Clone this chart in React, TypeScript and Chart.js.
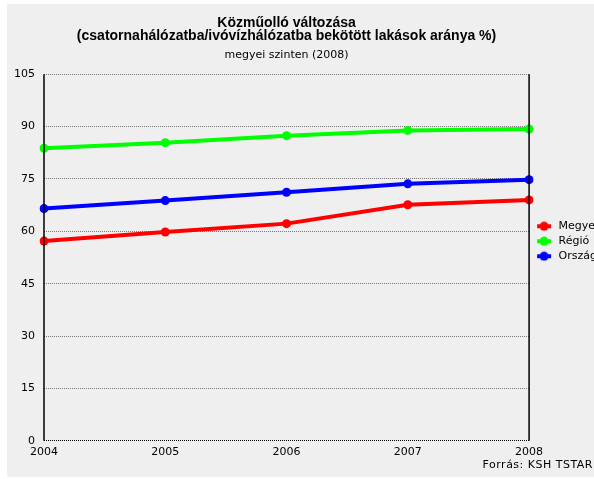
import React, { useEffect, useRef } from "react";
import { Chart, registerables } from "chart.js";

Chart.register(...registerables);

const years = ["2004", "2005", "2006", "2007", "2008"];
const megye = [57.2, 59.8, 62.2, 67.6, 69.0];
const regio = [83.8, 85.4, 87.4, 88.9, 89.3];
const orszag = [66.5, 68.8, 71.2, 73.6, 74.8];
const seriesNames = ["Megye", "Régió", "Ország"];
const seriesColors = ["#ff0000", "#00ff00", "#0000ff"];
const titleLines = [
  "Közműolló változása",
  "(csatornahálózatba/ivóvízhálózatba bekötött lakások aránya %)",
];
const subtitleText = "megyei szinten (2008)";
const sourceText = "Forrás: KSH TSTAR";

function makeMarker(color: string) {
  const c = document.createElement("canvas");
  c.width = 20;
  c.height = 10;
  const ctx = c.getContext("2d")!;
  ctx.strokeStyle = color;
  ctx.fillStyle = color;
  ctx.lineWidth = 4;
  ctx.beginPath();
  ctx.moveTo(4, 5);
  ctx.lineTo(18, 5);
  ctx.stroke();
  ctx.beginPath();
  ctx.arc(11, 5, 4.5, 0, Math.PI * 2);
  ctx.fill();
  return c;
}

const framePlugin = {
  id: "frame",
  afterDraw(chart: any) {
    const { ctx, chartArea } = chart;
    const { left, right, top, bottom } = chartArea;
    ctx.save();
    ctx.strokeStyle = "#000";
    ctx.lineWidth = 1.5;
    ctx.beginPath();
    ctx.moveTo(left, top);
    ctx.lineTo(left, bottom);
    ctx.moveTo(right, top);
    ctx.lineTo(right, bottom);
    ctx.stroke();
    ctx.restore();
  },
};

export default function App() {
  const ref = useRef<HTMLCanvasElement>(null);
  useEffect(() => {
    const values = [megye, regio, orszag];
    const markers = seriesColors.map(makeMarker);
    const chart = new Chart(ref.current!, {
      type: "line",
      data: {
        labels: years,
        datasets: seriesNames.map((name, i) => ({
          label: name,
          data: values[i],
          borderColor: seriesColors[i],
          backgroundColor: seriesColors[i],
          borderWidth: 4,
          pointRadius: 4.5,
          pointBorderWidth: 0,
          pointBackgroundColor: seriesColors[i],
          tension: 0,
        })),
      },
      options: {
        animation: false,
        responsive: false,
        layout: { padding: { left: 7, right: 0, top: 0, bottom: 15 } },
        plugins: {
          title: {
            display: true,
            text: titleLines,
            fullSize: false,
            color: "#000",
            font: { family: "'Liberation Sans', Arial, sans-serif", size: 14, weight: "bold", lineHeight: "13px" },
            padding: { top: 13, bottom: 6 },
          },
          subtitle: {
            display: true,
            text: subtitleText,
            fullSize: false,
            color: "#000",
            font: { family: "'DejaVu Sans', sans-serif", size: 11, lineHeight: 1.2 },
            padding: { top: 0, bottom: 12 },
          },
          legend: {
            position: "right",
            title: {
              display: true,
              text: " ",
              padding: 0,
              font: { size: 12, lineHeight: 1.2 },
            },
            labels: {
              color: "#000",
              font: { family: "'DejaVu Sans', sans-serif", size: 11 },
              usePointStyle: true,
              pointStyleWidth: 20,
              boxHeight: 10,
              padding: 4,
              generateLabels: (ch: any) =>
                ch.data.datasets.map((ds: any, i: number) => ({
                  text: ds.label,
                  fillStyle: seriesColors[i],
                  strokeStyle: seriesColors[i],
                  pointStyle: markers[i],
                  lineWidth: 0,
                  hidden: false,
                  datasetIndex: i,
                  fontColor: "#000",
                })),
            },
          },
          tooltip: { enabled: false },
        },
        scales: {
          x: {
            grid: { display: false, drawTicks: false },
            border: { display: false },
            ticks: {
              color: "#000",
              font: { family: "'DejaVu Sans', sans-serif", size: 11 },
              padding: 5,
              maxRotation: 0,
            },
          },
          y: {
            min: 0,
            max: 105,
            grid: {
              drawTicks: false,
              color: (c: any) => (c.tick && c.tick.value === 0 ? "#000" : "#777"),
              lineWidth: 1,
            },
            border: { display: false, dash: [1, 1] },
            ticks: {
              stepSize: 15,
              color: "#000",
              font: { family: "'DejaVu Sans', sans-serif", size: 11 },
              padding: 9,
            },
          },
        },
      },
      plugins: [framePlugin],
    });
    return () => chart.destroy();
  }, []);

  return (
    <div style={{ position: "fixed", left: 0, top: 0, width: 594, height: 479, overflow: "hidden", background: "#fff" }}>
      <div style={{ position: "absolute", left: 7, top: 4, width: 600, height: 473, background: "#efefef" }} />
      <canvas
        ref={ref}
        width={609}
        height={475}
        style={{ position: "absolute", left: -2, top: 4, display: "block" }}
      />
      <div
        style={{
          position: "absolute",
          right: 1,
          top: 458,
          fontFamily: "'DejaVu Sans', sans-serif",
          fontSize: 11,
          letterSpacing: "0.5px",
          color: "#000",
          whiteSpace: "nowrap",
        }}
      >
        {sourceText}
      </div>
    </div>
  );
}
